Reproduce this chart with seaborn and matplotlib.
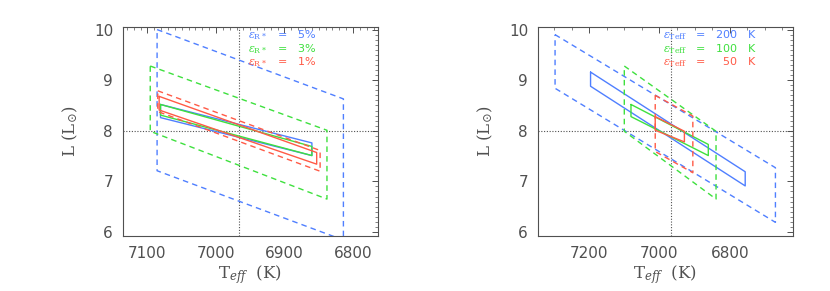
import numpy as np
import pandas as pd
import seaborn as sns
import matplotlib.pyplot as plt
from matplotlib.ticker import MultipleLocator

# ---- data (corners: TL, TR, BR, BL) ----
# left panel: radius errors
r5_dash_T = [7086, 6814]
r5_dash_L = [10.00, 8.63, 5.84, 7.21]
r3_dash_T = [7096, 6838]
r3_dash_L = [9.28, 8.01, 6.65, 7.99]
r1_dash_T = [7085, 6848]
r1_dash_L = [8.79, 7.61, 7.20, 8.38]
r5_solid_T = [7081, 6860]
r5_solid_L = [8.52, 7.76, 7.51, 8.26]
r3_solid_T = [7081, 6860]
r3_solid_L = [8.52, 7.69, 7.51, 8.31]
r1_solid_T = [7083, 6853]
r1_solid_L = [8.68, 7.57, 7.34, 8.41]

# right panel: Teff errors
t200_dash_T = [7297, 6670]
t200_dash_L = [9.90, 7.27, 6.19, 8.84]
t100_dash_T = [7100, 6839]
t100_dash_L = [9.28, 7.99, 6.65, 7.99]
t50_dash_T = [7012, 6905]
t50_dash_L = [8.70, 8.29, 7.17, 7.59]
t200_solid_T = [7196, 6756]
t200_solid_L = [9.16, 7.19, 6.91, 8.88]
t100_solid_T = [7081, 6861]
t100_solid_L = [8.52, 7.73, 7.51, 8.28]
t50_solid_T = [7012, 6929]
t50_solid_L = [8.28, 7.99, 7.78, 8.01]

T_center = 6966
L_center = 8.0

left_labels = [r'$\epsilon_{\rm R*}$   =   5%', r'$\epsilon_{\rm R*}$   =   3%', r'$\epsilon_{\rm R*}$   =   1%']
right_labels = [r'$\epsilon_{\rm Teff}$   =   200   K', r'$\epsilon_{\rm Teff}$   =   100   K',
                r'$\epsilon_{\rm Teff}$   =     50   K']

blue = '#4f7fff'
green = '#3ee03e'
red = '#ff5a46'
grey = '#505050'
cols = [blue, green, red]

sns.set_style('white')
plt.rcParams['font.family'] = ['DejaVu Sans']
plt.rcParams['mathtext.fontset'] = 'dejavuserif'


def box(T, L):
    return pd.DataFrame({'T': [T[0], T[1], T[1], T[0], T[0]],
                         'L': [L[0], L[1], L[2], L[3], L[0]]})


def draw(ax, T, L, color, dashed):
    d = box(T, L)
    sns.lineplot(data=d, x='T', y='L', sort=False, estimator=None, ax=ax,
                 color=color, lw=1.0, linestyle=(0, (4, 3)) if dashed else '-')


fig = plt.figure(figsize=(8.3, 2.91), dpi=100)
ax1 = fig.add_axes([0.148, 0.189, 0.307, 0.718])
ax2 = fig.add_axes([0.648, 0.189, 0.307, 0.718])

left_sets = [(r5_dash_T, r5_dash_L, r5_solid_T, r5_solid_L),
             (r3_dash_T, r3_dash_L, r3_solid_T, r3_solid_L),
             (r1_dash_T, r1_dash_L, r1_solid_T, r1_solid_L)]
right_sets = [(t200_dash_T, t200_dash_L, t200_solid_T, t200_solid_L),
              (t100_dash_T, t100_dash_L, t100_solid_T, t100_solid_L),
              (t50_dash_T, t50_dash_L, t50_solid_T, t50_solid_L)]

for ax, sets, labels, xlim, xmaj, xmin in [
        (ax1, left_sets, left_labels, (7136, 6764), 100, 10),
        (ax2, right_sets, right_labels, (7346, 6621), 200, 50)]:
    ax.axvline(T_center, color=grey, ls=(0, (1, 1.5)), lw=0.8)
    ax.axhline(L_center, color=grey, ls=(0, (1, 1.5)), lw=0.8)
    for (dT, dL, sT, sL), c in zip(sets, cols):
        draw(ax, dT, dL, c, True)
        draw(ax, sT, sL, c, False)
    ax.set_xlim(*xlim)
    ax.set_ylim(5.92, 10.05)
    ax.xaxis.set_major_locator(MultipleLocator(xmaj))
    ax.xaxis.set_minor_locator(MultipleLocator(xmin))
    ax.yaxis.set_major_locator(MultipleLocator(1))
    ax.yaxis.set_minor_locator(MultipleLocator(0.1))
    ax.tick_params(which='both', direction='in', top=True, right=True,
                   color=grey, labelcolor=grey, labelsize=11, width=0.7)
    ax.tick_params(which='major', length=4, pad=7)
    ax.tick_params(which='minor', length=2, width=0.5)
    for s in ax.spines.values():
        s.set_color(grey)
        s.set_linewidth(0.8)
    ax.set_xlabel(r'$\mathrm{T_{\it eff}}$  (K)', color=grey, fontsize=12,
                  family='DejaVu Serif', labelpad=2)
    ax.set_ylabel(r'L $(\mathrm{L}_{\odot})$', color=grey, fontsize=12,
                  family='DejaVu Serif', labelpad=10)
    for i, (lab, c) in enumerate(zip(labels, cols)):
        ax.text(0.49, 0.96 - i * 0.064, lab, transform=ax.transAxes,
                color=c, fontsize=8, va='center', ha='left')

fig.savefig('out.png', dpi=100)
